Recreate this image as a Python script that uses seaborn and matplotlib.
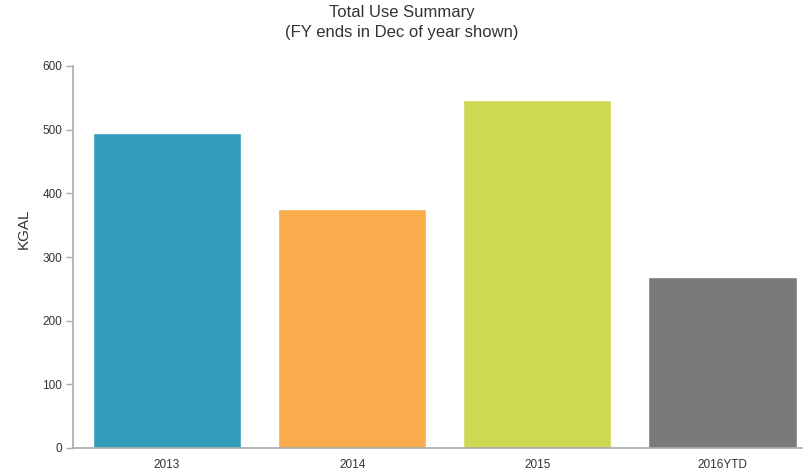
import matplotlib
matplotlib.use("Agg")
import matplotlib.pyplot as plt
import seaborn as sns
import pandas as pd

# data
years = ["2013", "2014", "2015", "2016YTD"]
kgal = [494, 375, 547, 268]
bar_colors = ["#349CBB", "#F8AC4B", "#CFD852", "#7A7A7A"]

df = pd.DataFrame({"year": years, "kgal": kgal})

sns.set_style("white")
plt.rcParams["font.family"] = ["Liberation Sans", "DejaVu Sans"]

fig = plt.figure(figsize=(8.04, 4.74), dpi=100)
ax = fig.add_axes([73.5 / 804, (474 - 448) / 474, (804 - 73.5) / 804, (448 - 66) / 474])

sns.barplot(data=df, x="year", y="kgal", hue="year", palette=bar_colors,
            legend=False, width=0.8, saturation=1, ax=ax)

ax.set_ylim(0, 600)
ax.set_xlim(-0.505, 3.44)
ax.set_yticks([0, 100, 200, 300, 400, 500, 600])
ax.set_xlabel("")
ax.set_ylabel("KGAL", fontsize=11, color="#333333")
ax.yaxis.set_label_coords(-0.059, 0.573)

sns.despine(ax=ax, top=True, right=True)
for side in ["left", "bottom"]:
    ax.spines[side].set_color("#aaaaaa")
    ax.spines[side].set_linewidth(1.2)

ax.tick_params(axis="y", length=5, width=1, color="#aaaaaa", labelsize=8.5,
               labelcolor="#333333", pad=3, left=True)
ax.tick_params(axis="x", length=0, labelsize=8.5, labelcolor="#333333", pad=8)

fig.text(0.5, 1 - 12 / 474, "Total Use Summary", ha="center", va="center",
         fontsize=12, color="#333333")
fig.text(0.5, 1 - 33 / 474, "(FY ends in Dec of year shown)", ha="center",
         va="center", fontsize=12, color="#333333")

fig.savefig("out.png", dpi=100)
